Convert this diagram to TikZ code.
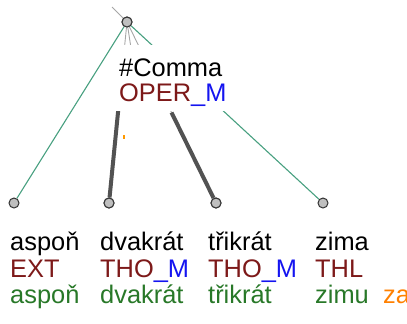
\documentclass[tikz,border=0pt]{standalone}
\usepackage{fontspec}
\setmainfont{Liberation Sans}
\usetikzlibrary{calc}
\definecolor{mblue}{RGB}{20,20,240}
\definecolor{edgegreen}{RGB}{72,160,128}
\definecolor{mmaroon}{RGB}{125,25,25}
\definecolor{tgreen}{RGB}{40,120,40}
\begin{document}
\begin{tikzpicture}[x=1bp,y=-1bp,
  dot/.style={circle,draw=black!80,fill=black!25,line width=1bp,minimum size=10bp,inner sep=0pt},
  thinedge/.style={draw=black!35,line width=0.9bp},
  greenedge/.style={draw=edgegreen,line width=1.1bp},
  thickedge/.style={draw=black!68,line width=4bp},
  lbl/.style={anchor=base west,inner sep=0pt,font=\fontsize{25.5}{26}\selectfont},
  maroon/.style={text=mmaroon},
  dgreen/.style={text=tgreen}
]
\useasboundingbox (0,0) rectangle (407,324);
% nodes
\node[dot] (r) at (127,22) {};
\node[dot] (a) at (14,203) {};
\node[dot] (d) at (109,203) {};
\node[dot] (t) at (216,203) {};
\node[dot] (z) at (323,203) {};
\coordinate (up) at (112,7);
\coordinate (mid) at (131,48);
% edges
\draw[thinedge] (r) -- (up);
\draw[thinedge] (r) -- (mid);
\draw[thinedge] (r) -- (d);
\draw[thinedge] (r) -- (t);
\draw[thickedge] ($(r)!0.47!(d)$) -- (d);
\draw[thickedge] ($(r)!0.5!(t)$) -- (t);
\draw[greenedge] (r) -- (a);
\draw[greenedge] (r) -- (z);
% label box
\node[fill=white,inner sep=0pt,minimum width=116bp,minimum height=66bp] (box) at (174,78) {};
\node[lbl] (c1) at (119,76) {\#Comma};
\node[lbl,maroon] (c2) at (119,101) {OPER\textcolor{mblue}{\_M}};
\node[dot] at (r) {};
\node[dot] at (d) {};
\node[dot] at (t) {};
% small mark
\draw[orange!80!yellow,line width=1.5bp] (124,135) -- (124,139);
% words
\node[lbl] (w1) at (10,250) {aspoň};
\node[lbl] (w2) at (100,250) {dvakrát};
\node[lbl] (w3) at (208,250) {třikrát};
\node[lbl] (w4) at (315,250) {zima};
\node[lbl,maroon] (f1) at (10,277) {EXT};
\node[lbl,maroon] (f2) at (100,277) {THO\textcolor{mblue}{\_M}};
\node[lbl,maroon] (f3) at (208,277) {THO\textcolor{mblue}{\_M}};
\node[lbl,maroon] (f4) at (315,277) {THL};
\node[lbl,dgreen] (l1) at (10,303) {aspoň};
\node[lbl,dgreen] (l2) at (100,303) {dvakrát};
\node[lbl,dgreen] (l3) at (208,303) {třikrát};
\node[lbl,dgreen] (l4) at (315,303) {zimu};
\node[lbl,text=orange] (l5) at (383,303) {za};
\end{tikzpicture}
\end{document}
